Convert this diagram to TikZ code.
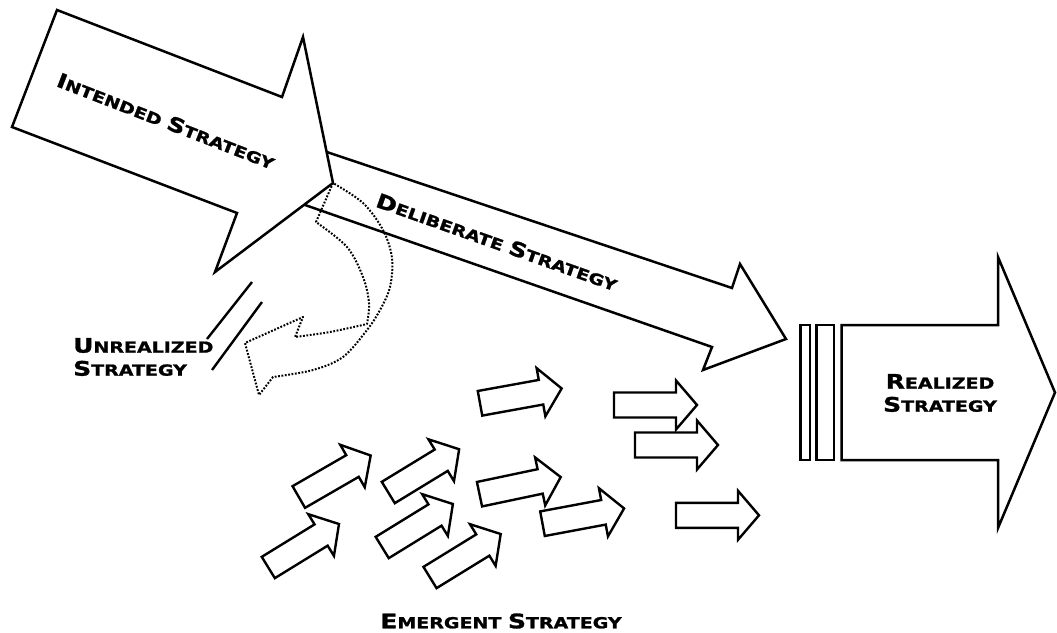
\documentclass[tikz,border=0pt]{standalone}
\usepackage{fontspec}
\newfontfamily\cpfont[FakeStretch=1.25, BoldFeatures={FakeBold=1.3}]{DejaVu Sans}
\newcommand\capw[2]{{\fontsize{20}{23}\selectfont #1}{\fontsize{15.2}{23}\selectfont #2}}
\tikzset{
  outline/.style={draw=black, line width=2.5pt, fill=white, line join=miter},
  smallarrow/.style={draw=black, line width=2.4pt, fill=white, line join=miter},
  dotline/.style={draw=black, line width=2pt, dash pattern=on 1.8pt off 1.6pt, line join=round},
  label/.style={font=\cpfont\bfseries\fontsize{15.2}{23}\selectfont, inner sep=0pt},
  sarrow/.pic={\path[smallarrow] (0,-12.5) -- (62,-12.5) -- (62,-24.5) -- (83,0) -- (62,24.5) -- (62,12.5) -- (0,12.5) -- cycle;}
}
\begin{document}
\begin{tikzpicture}[x=1pt,y=-1pt]
\useasboundingbox (0,0) rectangle (1057,632);
% deliberate strategy arrow (behind intended)
\path[outline] (300,143) -- (732,288) -- (740,264) -- (786,339) -- (703,370) -- (712,347) -- (285,198) -- cycle;
% intended strategy arrow
\path[outline] (57,10) -- (282,97) -- (303,37) -- (333,183) -- (215,272) -- (237,213) -- (12,127) -- cycle;
% unrealized dotted curved arrow
\draw[dotline] (333,183) -- (316,222)
  -- plot[smooth, tension=0.55] coordinates {(316,222) (347,247) (363,277) (369,303) (367,324)}
  -- plot[smooth, tension=0.5] coordinates {(367,324) (330,332) (295,337)}
  -- (303,317) -- (245,343) -- (259,395)
  -- plot[smooth, tension=0.55] coordinates {(273,377) (313,370) (343,357) (367,330) (380,310) (390,287) (392,258) (383,230) (363,203) (333,183)};
% unrealized break lines
\draw[line width=2.4pt] (252,282) -- (207,339);
\draw[line width=2.4pt] (262,302) -- (212,370);
% emergent small arrows
\pic[rotate=30] at (298.8,497) {sarrow};
\pic[rotate=31.4] at (388.3,492.5) {sarrow};
\pic[rotate=31.6] at (268.3,567.5) {sarrow};
\pic[rotate=31.6] at (382.2,547.5) {sarrow};
\pic[rotate=31.6] at (430,577.5) {sarrow};
\pic[rotate=10.3] at (480,403.3) {sarrow};
\pic[rotate=11.9] at (479.5,494.2) {sarrow};
\pic[rotate=10.6] at (542.5,523.7) {sarrow};
\pic at (614,405) {sarrow};
\pic at (635,445) {sarrow};
\pic at (676,515.3) {sarrow};
% realized strategy
\path[outline] (800.7,325) rectangle (810,460);
\path[outline] (816.7,325) rectangle (834,460);
\path[outline] (841.7,325) -- (998,325) -- (998,257) -- (1055,392.5) -- (998,528) -- (998,460) -- (841.7,460) -- cycle;
% labels
\node[label, rotate=-21.2] (intended) at (166,121) {\capw{I}{NTENDED} \capw{S}{TRATEGY}};
\node[label, rotate=-19.5] (deliberate) at (497,242) {\capw{D}{ELIBERATE} \capw{S}{TRATEGY}};
\node[label, align=left, anchor=west] (unrealized) at (73,357) {\capw{U}{NREALIZED}\\\capw{S}{TRATEGY}};
\node[label, align=center] (realized) at (940,393) {\capw{R}{EALIZED}\\\capw{S}{TRATEGY}};
\node[label] (emergent) at (501,621) {\capw{E}{MERGENT} \capw{S}{TRATEGY}};
\end{tikzpicture}
\end{document}
